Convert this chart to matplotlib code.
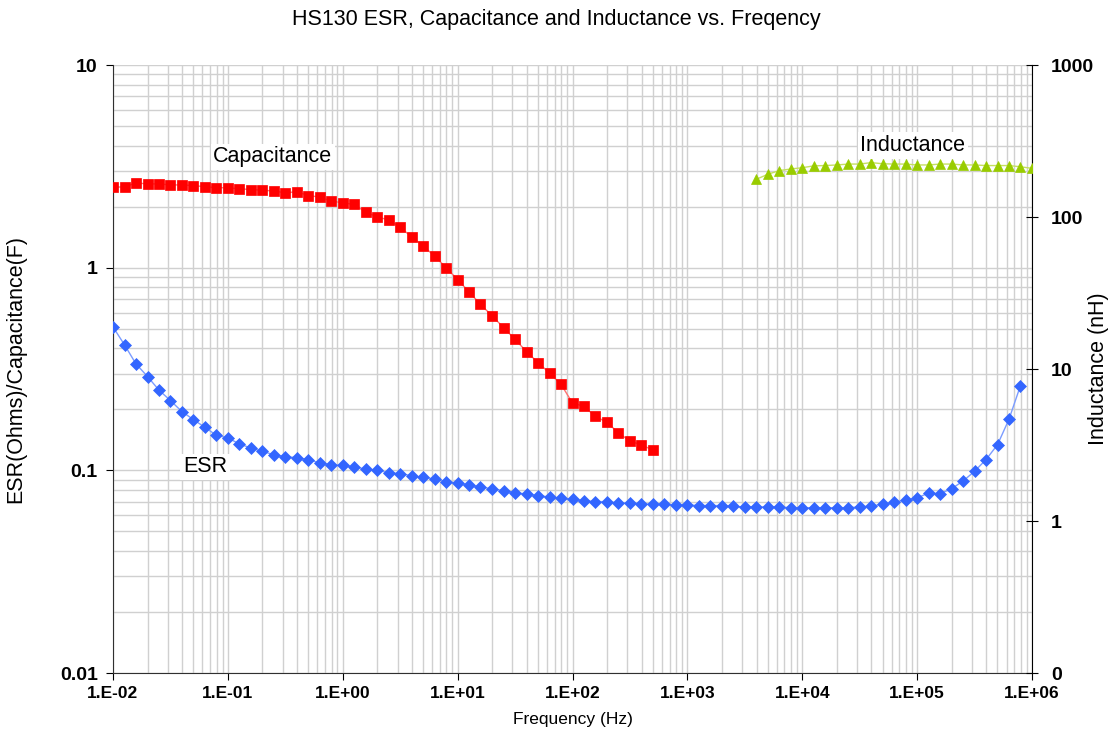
import numpy as np
import matplotlib
matplotlib.use("Agg")
import matplotlib.pyplot as plt
from matplotlib.ticker import LogLocator, FuncFormatter, NullFormatter

plt.rcParams['font.family'] = ['Liberation Sans', 'DejaVu Sans']

# frequency grid (Hz), 10 points per decade
freq = [
    0.01, 0.0126, 0.0158, 0.02, 0.0251, 0.0316, 0.0398, 0.0501, 0.0631, 0.0794,
    0.1, 0.126, 0.158, 0.2, 0.251, 0.316, 0.398, 0.501, 0.631, 0.794,
    1, 1.26, 1.58, 2, 2.51, 3.16, 3.98, 5.01, 6.31, 7.94,
    10, 12.6, 15.8, 20, 25.1, 31.6, 39.8, 50.1, 63.1, 79.4,
    100, 126, 158, 200, 251, 316, 398, 501, 631, 794,
    1000, 1260, 1580, 2000, 2510, 3160, 3980, 5010, 6310, 7940,
    10000, 12600, 15800, 20000, 25100, 31600, 39800, 50100, 63100, 79400,
    100000, 126000, 158000, 200000, 251000, 316000, 398000, 501000, 631000, 794000,
    1000000,
]

esr = [
    0.510, 0.416, 0.336, 0.290, 0.249, 0.221, 0.195, 0.178, 0.163, 0.149,
    0.1445, 0.135, 0.129, 0.124, 0.1195, 0.1168, 0.1155, 0.113, 0.1087, 0.1067,
    0.1058, 0.1039, 0.1015, 0.0999, 0.0974, 0.0963, 0.0941, 0.0923, 0.0907, 0.0880,
    0.0866, 0.0847, 0.0828, 0.0810, 0.0794, 0.0776, 0.0764, 0.0750, 0.0739, 0.0727,
    0.0719, 0.0709, 0.0701, 0.0701, 0.0690, 0.0690, 0.0685, 0.0679, 0.0679, 0.0675,
    0.0675, 0.0670, 0.0670, 0.0670, 0.0664, 0.0660, 0.0660, 0.0660, 0.0660, 0.0654,
    0.0654, 0.0654, 0.0654, 0.0654, 0.0654, 0.0660, 0.0667, 0.0679, 0.0695, 0.0714,
    0.0731, 0.0773, 0.0767, 0.0812, 0.0885, 0.0989, 0.113, 0.1338, 0.1789, 0.262,
]

capacitance = [
    2.50, 2.50, 2.62, 2.59, 2.59, 2.56, 2.56, 2.54, 2.51, 2.48,
    2.48, 2.45, 2.43, 2.41, 2.39, 2.34, 2.37, 2.27, 2.23, 2.13,
    2.09, 2.05, 1.88, 1.78, 1.72, 1.58, 1.42, 1.28, 1.14, 1.00,
    0.873, 0.759, 0.659, 0.578, 0.506, 0.443, 0.385, 0.340, 0.302, 0.2656,
    0.215, 0.2068, 0.1846, 0.1725, 0.1529, 0.1396, 0.1334, 0.126,
]

inductance = [
    177, 191, 202, 207, 211, 217, 218, 220, 223, 223,
    228, 224, 223, 223, 220, 220, 223, 223, 220, 220,
    218, 218, 218, 214, 209,
]

esr_freq = freq[:len(esr)]
cap_freq = freq[:len(capacitance)]
ind_freq = freq[-len(inductance):]

fig = plt.figure(figsize=(11.12, 7.4), dpi=100)
ax = fig.add_axes([113 / 1112, 1 - 673 / 740, (1032 - 113) / 1112, (673 - 65) / 740])
ax2 = ax.twinx()

ax.plot(esr_freq, esr, color='#7b9cff', lw=1.0, marker='D', ms=5.8, mew=0.5,
        mfc='#3366ff', mec='#3366ff', zorder=3)
ax.plot(cap_freq, capacitance, color='#ff7070', lw=1.0, marker='s', ms=7, mew=0.5,
        mfc='#ff0000', mec='#ff0000', zorder=3)
ax2.plot(ind_freq, inductance, color='#c4e060', lw=1.0, marker='^', ms=7.5, mew=0.5,
         mfc='#99cc00', mec='#99cc00', zorder=3)

ax.set_xscale('log')
ax.set_yscale('log')
ax2.set_yscale('log')
ax.set_xlim(1e-2, 1e6)
ax.set_ylim(0.01, 10)
ax2.set_ylim(0.1, 1000)

ax.xaxis.set_major_locator(LogLocator(base=10, numticks=20))
ax.xaxis.set_minor_locator(LogLocator(base=10, subs=np.arange(2, 10), numticks=200))
ax.yaxis.set_minor_locator(LogLocator(base=10, subs=np.arange(2, 10), numticks=200))
ax.xaxis.set_minor_formatter(NullFormatter())
ax.yaxis.set_minor_formatter(NullFormatter())
ax2.yaxis.set_minor_formatter(NullFormatter())
ax2.yaxis.set_minor_locator(LogLocator(base=10, subs=[], numticks=10))

ax.xaxis.set_major_formatter(FuncFormatter(lambda v, p: "1.E%+03d" % int(round(np.log10(v)))))
ax.yaxis.set_major_formatter(FuncFormatter(lambda v, p: "%g" % v))
ax2.yaxis.set_major_formatter(FuncFormatter(lambda v, p: "%d" % int(v)))

ax.grid(True, which='both', color='#d0d0d0', lw=1.0)
ax.set_axisbelow(True)

for a in (ax, ax2):
    a.spines['top'].set_visible(False)
ax2.spines['left'].set_visible(False)
ax2.spines['bottom'].set_visible(False)
ax.spines['right'].set_visible(False)
ax.spines['left'].set_color('#303030')
ax.spines['bottom'].set_color('#303030')
ax2.spines['right'].set_color('#000000')

ax.tick_params(which='minor', length=0)
ax2.tick_params(which='minor', length=0)
ax.tick_params(axis='x', which='major', direction='out', length=5, labelsize=12.5, pad=4)
ax.tick_params(axis='y', which='major', direction='out', length=5, labelsize=14, pad=6)
ax2.tick_params(which='major', direction='inout', length=9, labelsize=14, pad=9)
for lab in ax.get_xticklabels() + ax.get_yticklabels() + ax2.get_yticklabels():
    lab.set_fontweight('bold')

ax.set_xlabel('Frequency (Hz)', fontsize=12.5, labelpad=8)
ax.set_ylabel('ESR(Ohms)/Capacitance(F)', fontsize=15.5)
ax.yaxis.set_label_coords(-0.0947, 0.5)
ax2.set_ylabel('Inductance (nH)', fontsize=15.5, rotation=90)
ax2.yaxis.set_label_coords(1.061, 0.5)
fig.text(0.5, 1 - 20 / 740, 'HS130 ESR, Capacitance and Inductance vs. Freqency',
         ha='center', va='center', fontsize=15.5)

box = dict(facecolor='white', edgecolor='none', pad=2)
ax.text(0.174, 0.849, 'Capacitance', transform=ax.transAxes, ha='center', va='center',
        fontsize=15.5, bbox=box, zorder=5)
ax.text(0.100, 0.339, 'ESR', transform=ax.transAxes, ha='center', va='center',
        fontsize=15.5, bbox=box, zorder=5)
ax2.text(0.8705, 0.868, 'Inductance', transform=ax.transAxes, ha='center', va='center',
         fontsize=15.5, bbox=box, zorder=5)

fig.savefig('out.png', dpi=100)
